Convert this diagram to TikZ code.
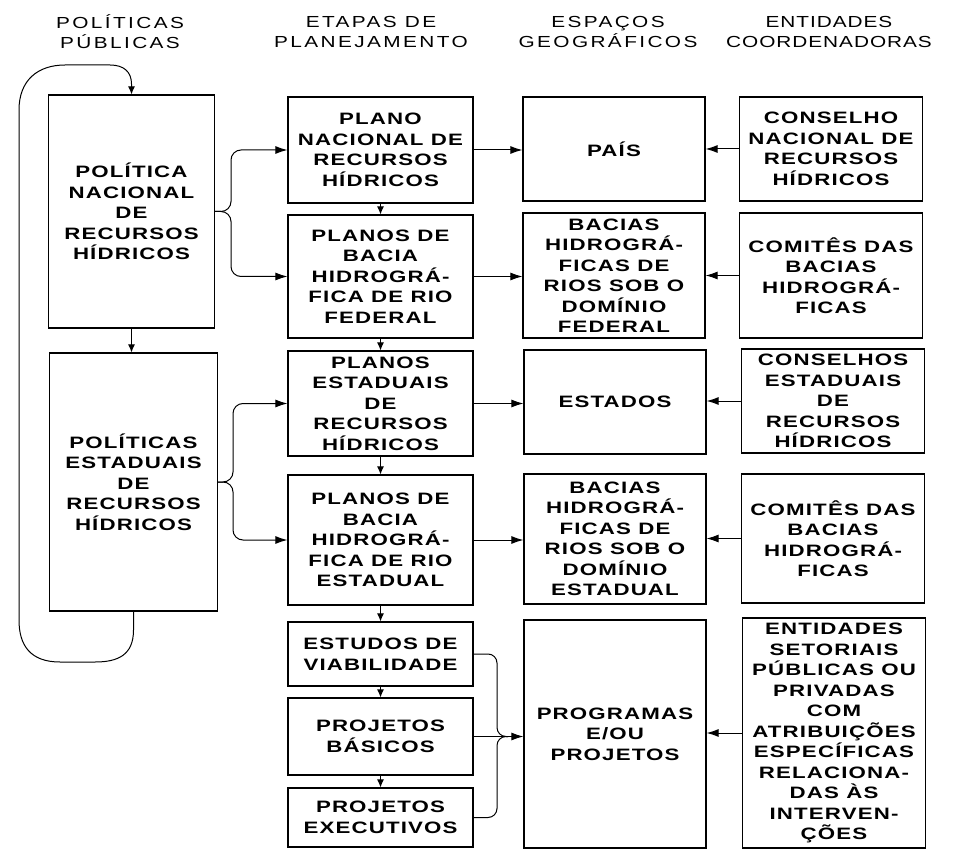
\documentclass[tikz,border=0pt]{standalone}
\usepackage{fontspec}
\usetikzlibrary{arrows.meta}
\newfontfamily\boxfont{Liberation Sans}[FakeStretch=1.35,LetterSpace=7]
\newfontfamily\headfont{Liberation Sans}[FakeStretch=1.3,LetterSpace=15]
\newfontfamily\headfontnarrow{Liberation Sans}[FakeStretch=1.3,LetterSpace=6]
\tikzset{
  box/.style={draw, line width=1.1pt, inner sep=0pt, align=center,
    font=\boxfont\bfseries\fontsize{16.5}{20.5}\selectfont},
  head/.style={align=center, inner sep=0pt, font=\headfont\fontsize{16}{20}\selectfont},
  headn/.style={align=center, inner sep=0pt, font=\headfontnarrow\fontsize{16}{20}\selectfont},
  arr/.style={line width=1pt, -{Latex[length=12pt,width=8pt]}},
  sarr/.style={line width=1pt, -{Latex[length=8pt,width=7pt]}},
  link/.style={line width=1pt}
}
\newcommand\bx[6]{\node[box, minimum width=#4pt, minimum height=#5pt] (#1) at (#2,#3) {#6};}
\begin{document}
\begin{tikzpicture}[x=1pt,y=-1pt]
\useasboundingbox (0,0) rectangle (958,850);
% headers
\node[head] (h1) at (120,31.5) {POLÍTICAS\\PÚBLICAS};
\node[head] (h2) at (371,31.5) {ETAPAS DE\\PLANEJAMENTO};
\node[head] (h3) at (608,31.5) {ESPAÇOS\\GEOGRÁFICOS};
\node[headn] (h4) at (829,31.5) {ENTIDADES\\COORDENADORAS};
% column 1
\bx{p1}{131.5}{211.5}{166}{233}{POLÍTICA\\NACIONAL\\DE\\RECURSOS\\HÍDRICOS}
\bx{p2}{133.5}{482}{168}{258}{POLÍTICAS\\ESTADUAIS\\DE\\RECURSOS\\HÍDRICOS}
% column 2
\bx{b1}{380.5}{150}{185}{106}{PLANO\\NACIONAL DE\\RECURSOS\\HÍDRICOS}
\bx{b2}{380.5}{276.5}{185}{123}{PLANOS DE\\BACIA\\HIDROGRÁ-\\FICA DE RIO\\FEDERAL}
\bx{b3}{380.5}{403.5}{185}{105}{PLANOS\\ESTADUAIS\\DE\\RECURSOS\\HÍDRICOS}
\bx{b4}{380.5}{540}{185}{130}{PLANOS DE\\BACIA\\HIDROGRÁ-\\FICA DE RIO\\ESTADUAL}
\bx{b5}{380.5}{654}{185}{64}{ESTUDOS DE\\VIABILIDADE}
\bx{b6}{380.5}{736.5}{185}{77}{PROJETOS\\BÁSICOS}
\bx{b7}{380.5}{817.5}{185}{59}{PROJETOS\\EXECUTIVOS}
% column 3
\bx{c1}{614}{149}{182}{104}{PAÍS}
\bx{c2}{614}{275.5}{182}{125}{BACIAS\\HIDROGRÁ-\\FICAS DE\\RIOS SOB O\\DOMÍNIO\\FEDERAL}
\bx{c3}{615}{402}{182}{104}{ESTADOS}
\bx{c4}{615}{539}{182}{130}{BACIAS\\HIDROGRÁ-\\FICAS DE\\RIOS SOB O\\DOMÍNIO\\ESTADUAL}
\bx{c5}{615}{734}{182}{228}{PROGRAMAS\\E/OU\\PROJETOS}
% column 4
\bx{d1}{831}{149}{183}{104}{CONSELHO\\NACIONAL DE\\RECURSOS\\HÍDRICOS}
\bx{d2}{831}{275.5}{183}{125}{COMITÊS DAS\\BACIAS\\HIDROGRÁ-\\FICAS}
\bx{d3}{833}{401}{183}{104}{CONSELHOS\\ESTADUAIS\\DE\\RECURSOS\\HÍDRICOS}
\bx{d4}{833}{538.5}{183}{129}{COMITÊS DAS\\BACIAS\\HIDROGRÁ-\\FICAS}
\bx{d5}{834}{733}{183}{230}{ENTIDADES\\SETORIAIS\\PÚBLICAS OU\\PRIVADAS\\COM\\ATRIBUIÇÕES\\ESPECÍFICAS\\RELACIONA-\\DAS ÀS\\INTERVEN-\\ÇÕES}
% helper coordinates
\coordinate (jx1) at (231,0);
\coordinate (jx2) at (233,0);
\coordinate (jx3) at (497,0);
\coordinate (jj) at (508,736.5);
% column 1 links
\draw[sarr] (p1.south) -- (p1.south |- p2.north);
\draw[sarr] (p2.south) -- (133.5,630) .. controls (133.5,655) and (118,662) .. (95,662)
  -- (60,662) .. controls (30,662) and (19,645) .. (19,620) -- (19,110)
  .. controls (19,80) and (38,65) .. (65,65) -- (110,65)
  .. controls (124,65) and (131.5,72) .. (131.5,84) -- (p1.north);
% braces col1 -> col2
\draw[arr, rounded corners=10] (p1.east) -- (p1.east -| jx1) -- (jx1 |- b1.west) -- (b1.west);
\draw[arr, rounded corners=10] (p1.east) -- (p1.east -| jx1) -- (jx1 |- b2.west) -- (b2.west);
\draw[arr, rounded corners=10] (p2.east) -- (p2.east -| jx2) -- (jx2 |- b3.west) -- (b3.west);
\draw[arr, rounded corners=10] (p2.east) -- (p2.east -| jx2) -- (jx2 |- b4.west) -- (b4.west);
% column 2 vertical
\draw[sarr] (b1.south) -- (b2.north);
\draw[sarr] (b2.south) -- (b3.north);
\draw[sarr] (b3.south) -- (b4.north);
\draw[sarr] (b4.south) -- (b5.north);
\draw[sarr] (b5.south) -- (b6.north);
\draw[sarr] (b6.south) -- (b7.north);
% col2 -> col3
\draw[arr] (b1.east) -- (b1.east -| c1.west);
\draw[arr] (b2.east) -- (b2.east -| c2.west);
\draw[arr] (b3.east) -- (b3.east -| c3.west);
\draw[arr] (b4.east) -- (b4.east -| c4.west);
\draw[link, rounded corners=9] (b5.east) -- (b5.east -| jx3) -- (jx3 |- b6.east) -- (jj);
\draw[link, rounded corners=9] (b7.east) -- (b7.east -| jx3) -- (jx3 |- b6.east) -- (jj);
\draw[arr] (b6.east) -- (b6.east -| c5.west);
% col4 -> col3
\draw[arr] (d1.west) -- (d1.west -| c1.east);
\draw[arr] (d2.west) -- (d2.west -| c2.east);
\draw[arr] (d3.west) -- (d3.west -| c3.east);
\draw[arr] (d4.west) -- (d4.west -| c4.east);
\draw[arr] (d5.west) -- (d5.west -| c5.east);
\end{tikzpicture}
\end{document}
